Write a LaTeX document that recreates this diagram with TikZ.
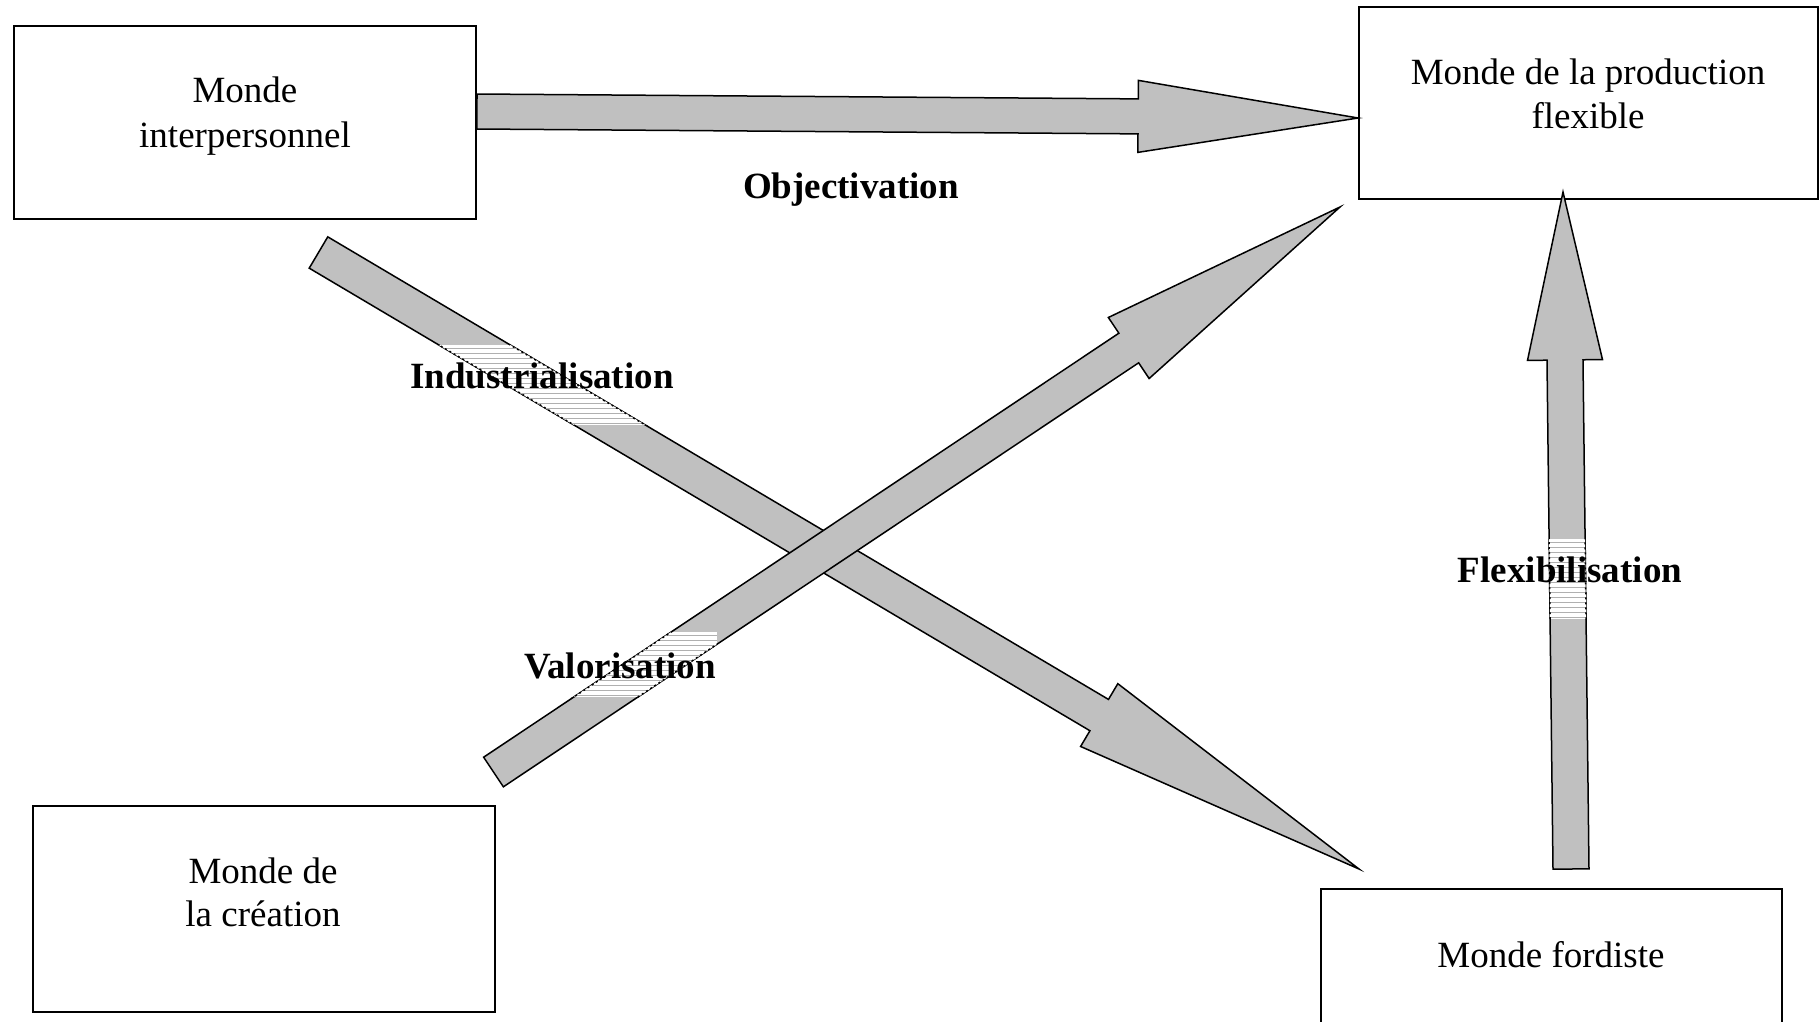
\documentclass[tikz,border=0pt]{standalone}
\usepackage{fontspec}
\setmainfont{Liberation Serif}
\usetikzlibrary{calc}

\definecolor{arrowgray}{HTML}{C0C0C0}
\definecolor{stripegray}{HTML}{B0B0B0}

\tikzset{
  worldbox/.style={draw=black, line width=1.8pt, inner sep=0pt},
  boxtext/.style={anchor=base, inner sep=0pt, font=\fontsize{37}{43}\selectfont},
  flowlabel/.style={anchor=base, inner sep=0pt, font=\fontsize{37}{43}\selectfont\bfseries},
  arrowbody/.style={fill=arrowgray, draw=black, line width=1.5pt, line join=miter},
  arrowedge/.style={draw=black, line width=1.5pt, dash pattern=on 2pt off 3pt},
  stripe/.style={draw=stripegray, line width=0.8pt},
}

% Block arrow: #1 tail, #2 head base, #3 tip, #4 half shaft width,
% #5 half head width, #6 path options
\newcommand{\blockarrowpath}[6]{%
  \path[#6] ($(#1)!#4!90:(#3)$) -- ($(#2)!#4!90:(#3)$) -- ($(#2)!#5!90:(#3)$)
    -- (#3) -- ($(#2)!#5!-90:(#3)$) -- ($(#2)!#4!-90:(#3)$)
    -- ($(#1)!#4!-90:(#3)$) -- cycle;}

% Striped white band behind a label, limited to the arrow it sits on:
% #1-#5 arrow as above, #6 left, #7 top, #8 right, #9 bottom
\newcommand{\labelband}[9]{%
  \begin{scope}
    \blockarrowpath{#1}{#2}{#3}{#4}{#5}{clip}
    \fill[white] (#6,#7) rectangle (#8,#9);
    \foreach \yy in {#7,...,#9} {
      \pgfmathtruncatemacro{\rem}{mod(\yy-#7,5)}
      \ifnum\rem=3 \draw[stripe] (#6,\yy) -- (#8,\yy);\fi
    }
  \end{scope}
  \begin{scope}
    \clip (#6,#7) rectangle (#8,#9);
    \blockarrowpath{#1}{#2}{#3}{#4}{#5}{arrowedge}
  \end{scope}}

\begin{document}
\begin{tikzpicture}[x=1pt, y=-1pt]
  \useasboundingbox (0,0) rectangle (1820,1021);
  \clip (0,0) rectangle (1820,1021);

  % the four worlds
  \node[worldbox, minimum width=462pt, minimum height=193pt] (inter) at (245,122.5) {};
  \node[worldbox, minimum width=459pt, minimum height=192pt] (flex) at (1588.5,103) {};
  \node[worldbox, minimum width=462pt, minimum height=206pt] (crea) at (264,909) {};
  \node[worldbox, minimum width=461pt, minimum height=192pt] (ford) at (1551.5,985) {};

  \node[boxtext] (interA) at (245,102) {Monde};
  \node[boxtext] (interB) at (245,147) {interpersonnel};
  \node[boxtext] (flexA) at (1588,84) {Monde de la production};
  \node[boxtext] (flexB) at (1588,128) {flexible};
  \node[boxtext] (creaA) at (263,883) {Monde de};
  \node[boxtext] (creaB) at (263,926) {la création};
  \node[boxtext] (fordA) at (1551,967) {Monde fordiste};

  % arrow end points
  \coordinate (oTail) at (inter.east |- 0,111.5);
  \coordinate (oTip)  at (flex.west |- 0,118);
  \coordinate (oBase) at ($(oTip)!220pt!(oTail)$);

  \coordinate (iTail) at (318.5,252.5);
  \coordinate (iTip)  at (1359,869);
  \coordinate (iBase) at ($(iTip)!302pt!(iTail)$);

  \coordinate (vTail) at (493.5,772);
  \coordinate (vTip)  at (1340,207);
  \coordinate (vBase) at ($(vTip)!254pt!(vTail)$);

  \coordinate (fTail) at (1571,869);
  \coordinate (fTip)  at (1563,192);
  \coordinate (fBase) at ($(fTip)!168pt!(fTail)$);

  % block arrows
  \blockarrowpath{iTail}{iBase}{iTip}{18.2pt}{36.5pt}{arrowbody}
  \blockarrowpath{vTail}{vBase}{vTip}{17.8pt}{36.7pt}{arrowbody}
  \blockarrowpath{oTail}{oBase}{oTip}{17.5pt}{36pt}{arrowbody}
  \blockarrowpath{fTail}{fBase}{fTip}{18pt}{37.5pt}{arrowbody}

  % label backgrounds
  \labelband{iTail}{iBase}{iTip}{18.2pt}{36.5pt}{410}{345}{675}{425}
  \labelband{vTail}{vBase}{vTip}{17.8pt}{36.7pt}{522}{632}{717}{697}
  \labelband{fTail}{fBase}{fTip}{18pt}{37.5pt}{1458}{539}{1682}{619}

  % labels
  \node[flowlabel] (objLabel) at (851,198.5) {Objectivation};
  \node[flowlabel] (indLabel) at (542,388) {Industrialisation};
  \node[flowlabel] (valLabel) at (620,678) {Valorisation};
  \node[flowlabel] (flxLabel) at (1570,582) {Flexibilisation};
\end{tikzpicture}
\end{document}
